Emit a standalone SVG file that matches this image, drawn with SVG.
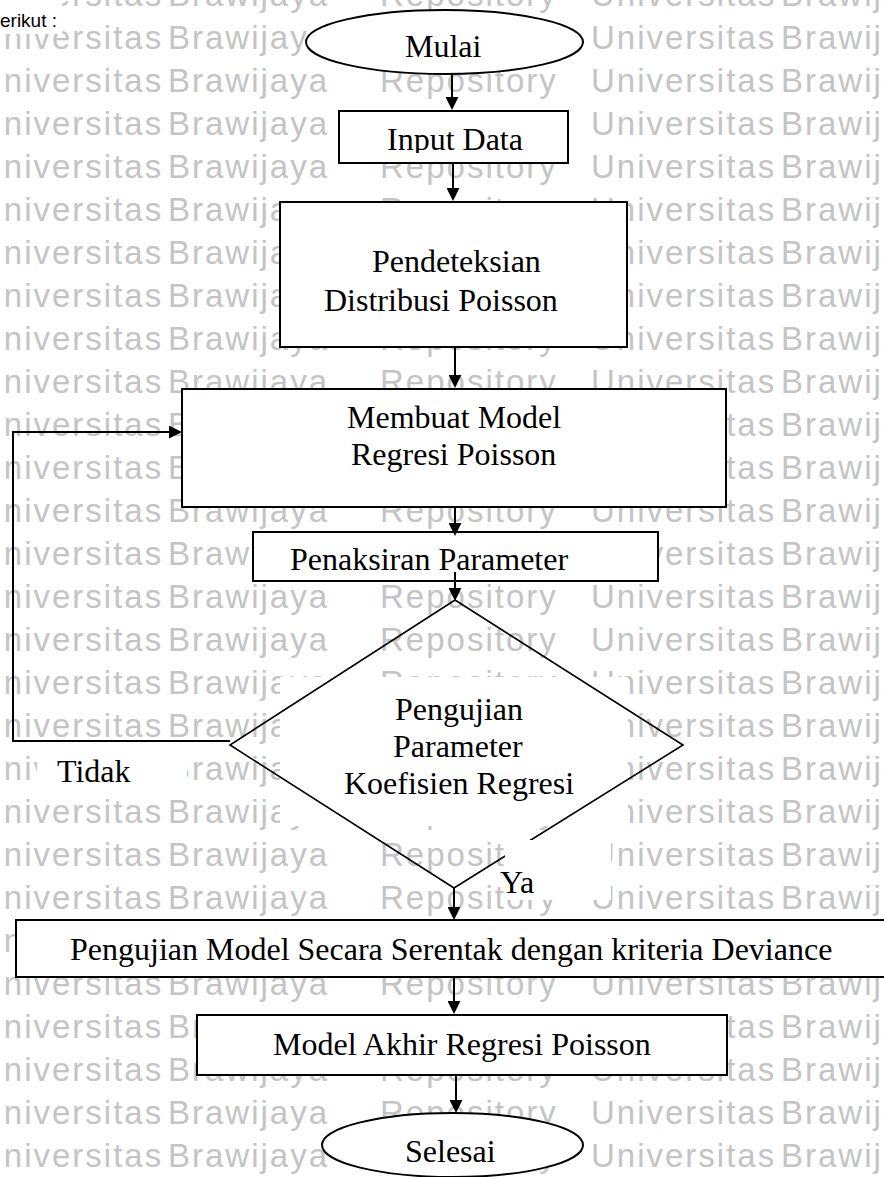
<svg xmlns="http://www.w3.org/2000/svg" xmlns:xlink="http://www.w3.org/1999/xlink" width="884" height="1177" viewBox="0 0 884 1177">
<defs>
<style>
.wm{font-family:"Liberation Sans",Arial,sans-serif;font-size:33px;fill:#c4c4c4;letter-spacing:2px}
.t{font-family:"Liberation Serif","Times New Roman",serif;font-size:32px;fill:#000}
.box{fill:#fff;stroke:#000;stroke-width:2}
.dia{fill:none;stroke:#000;stroke-width:1.6}
.bg{fill:#fff}
.con{fill:none;stroke:#000;stroke-width:2}
</style>
<marker id="ah" viewBox="0 0 10 10" refX="7" refY="5" markerWidth="13" markerHeight="13" markerUnits="userSpaceOnUse" orient="auto">
<path d="M0,0 L10,5 L0,10 z" fill="#000"/>
</marker>
<clipPath id="clipInput"><rect x="339" y="111" width="229" height="42"/></clipPath>
<text id="wmrow" class="wm" y="0"><tspan x="-22">Universitas</tspan><tspan x="168">Brawijaya</tspan><tspan x="380">Repository</tspan><tspan x="591">Universitas</tspan><tspan x="781">Brawijaya</tspan></text>
</defs>
<rect x="0" y="0" width="884" height="1177" fill="#fff"/>
<g id="watermark">
<use xlink:href="#wmrow" y="6"/><use xlink:href="#wmrow" y="49"/><use xlink:href="#wmrow" y="92"/><use xlink:href="#wmrow" y="135"/>
<use xlink:href="#wmrow" y="178"/><use xlink:href="#wmrow" y="221"/><use xlink:href="#wmrow" y="264"/><use xlink:href="#wmrow" y="307"/>
<use xlink:href="#wmrow" y="350"/><use xlink:href="#wmrow" y="393"/><use xlink:href="#wmrow" y="436"/><use xlink:href="#wmrow" y="479"/>
<use xlink:href="#wmrow" y="522"/><use xlink:href="#wmrow" y="565"/><use xlink:href="#wmrow" y="608"/><use xlink:href="#wmrow" y="651"/>
<use xlink:href="#wmrow" y="694"/><use xlink:href="#wmrow" y="737"/><use xlink:href="#wmrow" y="780"/><use xlink:href="#wmrow" y="823"/>
<use xlink:href="#wmrow" y="866"/><use xlink:href="#wmrow" y="909"/><use xlink:href="#wmrow" y="952"/><use xlink:href="#wmrow" y="995"/>
<use xlink:href="#wmrow" y="1038"/><use xlink:href="#wmrow" y="1081"/><use xlink:href="#wmrow" y="1124"/><use xlink:href="#wmrow" y="1167"/>
</g>
<g id="intro">
<rect class="bg" x="0" y="0" width="62" height="34"/>
<text x="0" y="27" style="font-family:'Liberation Sans',Arial,sans-serif;font-size:19px;fill:#000">erikut :</text>
</g>
<g id="n-mulai">
<ellipse class="box" cx="444.5" cy="42" rx="138.5" ry="32"/>
<text class="t" x="405" y="57">Mulai</text>
</g>
<g id="n-input">
<rect class="box" x="339" y="111" width="229" height="52"/>
<text class="t" x="387" y="150" clip-path="url(#clipInput)">Input Data</text>
</g>
<g id="n-deteksi">
<rect class="box" x="280" y="202" width="347" height="145"/>
<text class="t" x="372" y="272">Pendeteksian</text>
<text class="t" x="324" y="311">Distribusi Poisson</text>
</g>
<g id="n-model">
<rect class="box" x="182" y="389" width="544" height="118"/>
<text class="t" x="347" y="428">Membuat Model</text>
<text class="t" x="351" y="465">Regresi Poisson</text>
</g>
<g id="n-taksir">
<rect class="box" x="253" y="532" width="405" height="49"/>
<text class="t" x="290" y="570">Penaksiran Parameter</text>
</g>
<g id="n-uji">
<rect class="bg" x="280" y="677" width="348" height="149"/>
<polygon class="dia" points="455,600 683,745 454,888 230,745"/>
<text class="t" x="395" y="720">Pengujian</text>
<text class="t" x="393" y="757">Parameter</text>
<text class="t" x="344" y="794">Koefisien Regresi</text>
</g>
<g id="n-serentak">
<rect class="box" x="16" y="920" width="890" height="57"/>
<text class="t" x="70" y="960">Pengujian Model Secara Serentak dengan kriteria Deviance</text>
</g>
<g id="n-akhir">
<rect class="box" x="197" y="1015" width="530" height="60"/>
<text class="t" x="273" y="1055">Model Akhir Regresi Poisson</text>
</g>
<g id="n-selesai">
<ellipse class="box" cx="452.5" cy="1145" rx="130.5" ry="32"/>
<text class="t" x="405" y="1162">Selesai</text>
</g>
<g id="labels">
<rect class="bg" x="37" y="755" width="150" height="37"/>
<text class="t" x="57" y="782">Tidak</text>
<rect class="bg" x="505" y="840" width="106" height="60"/>
<text class="t" x="500" y="893">Ya</text>
</g>
<g id="connectors">
<line class="con" x1="452" y1="74" x2="452" y2="106" marker-end="url(#ah)"/>
<line class="con" x1="453" y1="163" x2="453" y2="197" marker-end="url(#ah)"/>
<line class="con" x1="455" y1="347" x2="455" y2="384" marker-end="url(#ah)"/>
<line class="con" x1="455" y1="507" x2="455" y2="532" marker-end="url(#ah)"/>
<line class="con" x1="455" y1="572" x2="455" y2="597" marker-end="url(#ah)"/>
<polyline class="con" points="230,741 13,741 13,432 178,432" marker-end="url(#ah)"/>
<line class="con" x1="454" y1="888" x2="454" y2="916" marker-end="url(#ah)"/>
<line class="con" x1="454" y1="977" x2="454" y2="1010" marker-end="url(#ah)"/>
<line class="con" x1="456" y1="1075" x2="456" y2="1109" marker-end="url(#ah)"/>
</g>
</svg>
